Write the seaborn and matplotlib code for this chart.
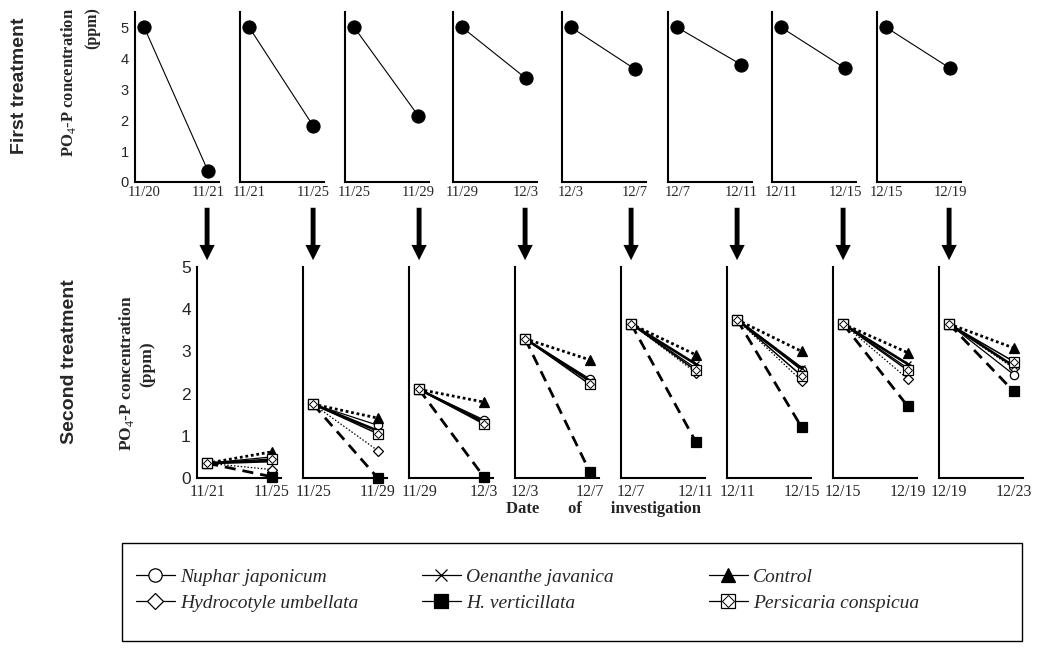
import matplotlib
matplotlib.use("Agg")
import matplotlib.pyplot as plt
import seaborn as sns
from matplotlib.lines import Line2D
from matplotlib.patches import Rectangle, FancyArrowPatch, ArrowStyle
from matplotlib.legend_handler import HandlerTuple

# ---------------- data ----------------
top_dates = ["11/20", "11/21", "11/25", "11/29", "12/3", "12/7", "12/11", "12/15", "12/19"]
top_start = [5.0, 5.0, 5.0, 5.0, 5.0, 5.0, 5.0, 5.0]
top_end = [0.35, 1.82, 2.15, 3.35, 3.65, 3.80, 3.68, 3.68]

bottom_dates = ["11/21", "11/25", "11/29", "12/3", "12/7", "12/11", "12/15", "12/19", "12/23"]
bottom_start = [0.35, 1.75, 2.10, 3.30, 3.65, 3.75, 3.65, 3.65]
nuphar_end = [0.50, 1.25, 1.38, 2.35, 2.60, 2.55, 2.60, 2.45]
oenanthe_end = [0.40, 1.12, 1.33, 2.30, 2.70, 2.60, 2.70, 2.65]
hydrocotyle_end = [0.20, 0.65, 1.30, 2.28, 2.50, 2.30, 2.35, 2.60]
control_end = [0.62, 1.42, 1.80, 2.80, 2.92, 3.00, 2.97, 3.08]
hvert_end = [0.03, 0.00, 0.03, 0.15, 0.86, 1.20, 1.70, 2.05]
persicaria_end = [0.45, 1.05, 1.28, 2.22, 2.55, 2.42, 2.55, 2.76]

series_names = ["Hydrocotyle umbellata", "Nuphar japonicum", "Oenanthe javanica",
                "Control", "H. verticillata", "Persicaria conspicua"]
series_ends = [hydrocotyle_end, nuphar_end, oenanthe_end, control_end, hvert_end, persicaria_end]

styles = {
    "Hydrocotyle umbellata": dict(linestyle=(0, (1.2, 1.5)), linewidth=0.9, marker="D", markersize=5,
                                  markerfacecolor="white"),
    "Nuphar japonicum": dict(linestyle="-", linewidth=0.9, marker="o", markersize=6,
                             markerfacecolor="white"),
    "Oenanthe javanica": dict(linestyle="-", linewidth=1.9, marker="x", markersize=5,
                              markerfacecolor="black"),
    "Control": dict(linestyle=(0, (1.0, 1.0)), linewidth=2.0, marker="^", markersize=6.5,
                    markerfacecolor="black"),
    "H. verticillata": dict(linestyle=(0, (4.0, 2.5)), linewidth=2.0, marker="s", markersize=6.5,
                            markerfacecolor="black"),
    "Persicaria conspicua": dict(linestyle="-", linewidth=1.1, marker="s", markersize=7,
                                 markerfacecolor="white"),
}

# ---------------- style ----------------
sns.set_style("white")
plt.rcParams["font.family"] = ["Liberation Serif", "DejaVu Serif"]
plt.rcParams["mathtext.fontset"] = "custom"
plt.rcParams["mathtext.rm"] = "Liberation Serif"
plt.rcParams["mathtext.bf"] = "Liberation Serif:bold"

W, H = 1042, 652
fig = plt.figure(figsize=(W / 100, H / 100), dpi=100)


def px_rect(left, top, width, height):
    return [left / W, 1 - (top + height) / H, width / W, height / H]


top_lefts = [135, 240, 345, 453, 562, 668, 772, 877]
bot_lefts = [197, 303, 409, 515, 621, 727, 833, 939]
top_xlim = (-0.145, 1.171)
bot_xlim = (-0.156, 1.143)
bot_axes = []

for i in range(8):
    # ---------- first treatment ----------
    ax = fig.add_axes(px_rect(top_lefts[i], 12, 84, 170))
    sns.lineplot(x=[0, 1], y=[top_start[i], top_end[i]], ax=ax, color="black",
                 linewidth=0.8, marker="o", markersize=9.5, markerfacecolor="black",
                 markeredgecolor="black", clip_on=False)
    ax.set_xlim(*top_xlim)
    ax.set_ylim(0, 5.5)
    ax.set_xticks([0, 1])
    ax.set_xticklabels([top_dates[i], top_dates[i + 1]], fontsize=10.5)
    ax.set_yticks(range(6))
    for s in ["top", "right"]:
        ax.spines[s].set_visible(False)
    for s in ["left", "bottom"]:
        ax.spines[s].set_linewidth(1.5)
        ax.spines[s].set_color("black")
    ax.tick_params(axis="x", length=0, pad=3)
    if i == 0:
        ax.tick_params(axis="y", direction="out", length=3, width=1, pad=1.5, labelsize=10.5)
        for t in ax.get_yticklabels():
            t.set_fontfamily("Liberation Sans")
    else:
        ax.tick_params(axis="y", direction="in", length=3, width=1, labelleft=False)
    ax.set_xlabel("")
    ax.set_ylabel("")

    # ---------- second treatment ----------
    bx = fig.add_axes(px_rect(bot_lefts[i], 267, 84, 211))
    for name, ends in zip(series_names, series_ends):
        st = styles[name]
        sns.lineplot(x=[0, 1], y=[bottom_start[i], ends[i]], ax=bx, color="black",
                     markeredgecolor="black", markeredgewidth=0.9, clip_on=False, **st)
        if name == "Persicaria conspicua":
            sns.lineplot(x=[0, 1], y=[bottom_start[i], ends[i]], ax=bx, color="black",
                         linestyle="none", marker="D", markersize=4, markerfacecolor="white",
                         markeredgecolor="black", markeredgewidth=0.7, clip_on=False)
    bx.set_xlim(*bot_xlim)
    bx.set_ylim(0, 5)
    bx.set_xticks([0, 1])
    bx.set_xticklabels([bottom_dates[i], bottom_dates[i + 1]], fontsize=11.5)
    bx.set_yticks(range(6))
    for s in ["top", "right"]:
        bx.spines[s].set_visible(False)
    for s in ["left", "bottom"]:
        bx.spines[s].set_linewidth(1.5)
        bx.spines[s].set_color("black")
    bx.tick_params(axis="x", length=0, pad=4)
    if i == 0:
        bx.tick_params(axis="y", direction="out", length=3, width=1, pad=1.5, labelsize=12.5)
        for t in bx.get_yticklabels():
            t.set_fontfamily("Liberation Sans")
    else:
        bx.tick_params(axis="y", direction="in", length=3, width=1, labelleft=False)
    bx.set_xlabel("")
    bx.set_ylabel("")
    bot_axes.append(bx)

# ---------------- arrows between rows ----------------
for bx in bot_axes:
    pos = bx.get_position()
    xf = pos.x0 + (0 - bot_xlim[0]) / (bot_xlim[1] - bot_xlim[0]) * pos.width
    arr = FancyArrowPatch((xf, 1 - 205 / H), (xf, 1 - 263 / H), transform=fig.transFigure,
                          arrowstyle=ArrowStyle.Simple(head_length=1.0, head_width=1.0, tail_width=0.32),
                          mutation_scale=11, color="black", linewidth=0)
    fig.patches.append(arr)

# ---------------- texts ----------------
fig.text(20 / W, 1 - 86 / H, "First treatment", rotation=90, ha="center", va="center",
         fontsize=14, fontweight="bold", family="Liberation Sans")
fig.text(70 / W, 1 - 362 / H, "Second treatment", rotation=90, ha="center", va="center",
         fontsize=14, fontweight="bold", family="Liberation Sans")

fig.text(68 / W, 1 - 82 / H, r"PO$_4$-P concentration", rotation=90, ha="center", va="center",
         fontsize=12, fontweight="bold")
fig.text(92 / W, 1 - 28 / H, "(ppm)", rotation=90, ha="center", va="center",
         fontsize=11.5, fontweight="bold")
fig.text(126 / W, 1 - 373 / H, r"PO$_4$-P concentration", rotation=90, ha="center", va="center",
         fontsize=12.5, fontweight="bold")
fig.text(147 / W, 1 - 364 / H, "(ppm)", rotation=90, ha="center", va="center",
         fontsize=12.5, fontweight="bold")

fig.text(603 / W, 1 - 509 / H, "Date       of       investigation", ha="center", va="center",
         fontsize=12, fontweight="bold")

# ---------------- legend ----------------
fig.patches.append(Rectangle((122 / W, 1 - 641 / H), 900 / W, 98 / H, transform=fig.transFigure,
                             fill=False, edgecolor="black", linewidth=1.0))


def handle(name):
    st = dict(styles[name])
    h = Line2D([], [], color="black", linestyle="-", linewidth=0.9, marker=st["marker"],
               markersize=st["markersize"] * 1.6, markerfacecolor=st["markerfacecolor"],
               markeredgecolor="black", markeredgewidth=0.9)
    if name == "Persicaria conspicua":
        h.set_markersize(10)
        d = Line2D([], [], color="black", linestyle="none", marker="D", markersize=6.5,
                   markerfacecolor="white", markeredgecolor="black", markeredgewidth=0.7)
        return (h, d)
    return h


columns = [(["Nuphar japonicum", "Hydrocotyle umbellata"], 136),
           (["Oenanthe javanica", "H. verticillata"], 422),
           (["Control", "Persicaria conspicua"], 709)]
for names, xpx in columns:
    leg = fig.legend([handle(n) for n in names], names, loc="upper left",
                     bbox_to_anchor=(xpx / W, 1 - 568 / H), frameon=False, borderpad=0,
                     borderaxespad=0, handlelength=2.0, handletextpad=0.25, labelspacing=0.45,
                     prop=dict(family="Liberation Serif", style="italic", size=14),
                     handler_map={tuple: HandlerTuple(ndivide=1)})

fig.savefig("out.png", dpi=100)
